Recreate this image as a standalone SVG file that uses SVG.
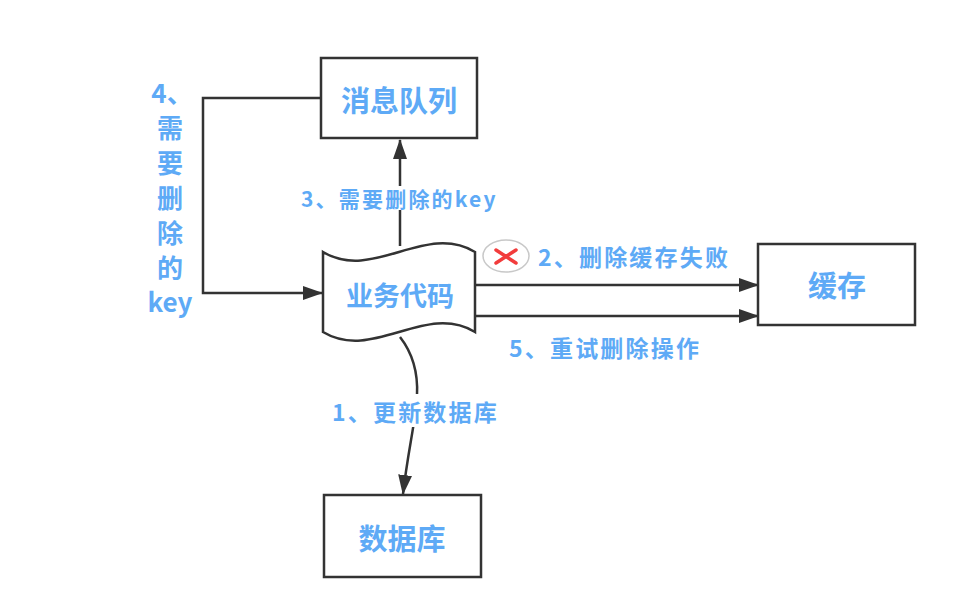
<svg xmlns="http://www.w3.org/2000/svg" width="964" height="596" viewBox="0 0 964 596">
<style>
.box{fill:#fff;stroke:#333;stroke-width:2.5}
.edge{fill:none;stroke:#333;stroke-width:2.5}
.lbl{font-family:"Noto Sans CJK SC","Noto Sans",sans-serif;font-weight:bold;fill:#5eaaf6}
.nt{font-size:29px;text-anchor:middle;dominant-baseline:central}
.et{font-size:23px;dominant-baseline:central;letter-spacing:2.2px}
.vt{font-size:26px;text-anchor:middle;dominant-baseline:central}
.bg{fill:#fff}
</style>
<defs>
<marker id="arr" markerWidth="20" markerHeight="14" refX="19" refY="7" orient="auto" markerUnits="userSpaceOnUse">
<path d="M0,0 L20,7 L0,14 Z" fill="#333"/>
</marker>
</defs>
<rect width="964" height="596" fill="#fff"/>
<g id="connectors">
<path class="edge" d="M321,98 H203 V293 H322" marker-end="url(#arr)"/>
<path class="edge" d="M400,246 V140" marker-end="url(#arr)"/>
<path class="edge" d="M475,285 H758" marker-end="url(#arr)"/>
<path class="edge" d="M475,316 H758" marker-end="url(#arr)"/>
<path class="edge" d="M400,337 C414,355 418,375 417,395 C416,420 408,450 403,494" marker-end="url(#arr)"/>
</g>
<g id="mq">
<rect class="box" x="321" y="58" width="156" height="80"/>
<text class="lbl nt" x="399" y="99">消息队列</text>
</g>
<g id="cache">
<rect class="box" x="758" y="244" width="157" height="81"/>
<text class="lbl nt" x="837" y="284">缓存</text>
</g>
<g id="db">
<rect class="box" x="324" y="495" width="157" height="82"/>
<text class="lbl nt" x="402" y="537">数据库</text>
</g>
<g id="biz">
<path class="box" d="M323,252 C373,282 425,222 475,252 V332 C425,302 373,362 323,332 Z"/>
<text class="lbl nt" x="400" y="294" style="font-size:27px">业务代码</text>
</g>
<g id="label3">
<rect class="bg" x="300" y="186" width="200" height="24"/>
<text class="lbl et" x="301" y="198" style="font-size:21px">3、需要删除的key</text>
</g>
<g id="label2">
<ellipse cx="506" cy="256" rx="23" ry="16" fill="#fff" stroke="#c8c8c8" stroke-width="1.5"/>
<path d="M496,250 L516,263 M516,250 L496,263" stroke="#f23c3c" stroke-width="3.5" stroke-linecap="round" fill="none"/>
<text class="lbl et" x="538" y="256">2、删除缓存失败</text>
</g>
<g id="label5">
<text class="lbl et" x="509" y="347">5、重试删除操作</text>
</g>
<g id="label1">
<rect class="bg" x="330" y="394" width="174" height="33"/>
<text class="lbl et" x="332" y="411">1、更新数据库</text>
</g>
<g id="label4">
<text class="lbl vt" x="172" y="91">4、</text>
<text class="lbl vt" x="170" y="126">需</text>
<text class="lbl vt" x="170" y="161">要</text>
<text class="lbl vt" x="170" y="196">删</text>
<text class="lbl vt" x="170" y="231">除</text>
<text class="lbl vt" x="170" y="266">的</text>
<text class="lbl vt" x="170" y="300">key</text>
</g>
</svg>
